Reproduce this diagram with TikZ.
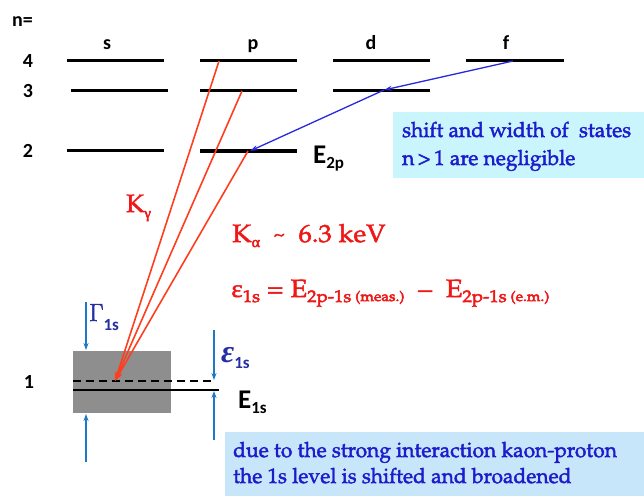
\documentclass[tikz,border=0pt]{standalone}
\usepackage[T1]{fontenc}
\usepackage{fontspec}
\usepackage{graphicx}
\newfontfamily\carl{Carlito}
\newfontfamily\grk{Liberation Serif}
\newcommand\pal{\fontencoding{T1}\fontfamily{ppl}\selectfont}
\newcommand\fsz[1]{\fontsize{#1}{#1}\selectfont}
\newcommand\lowsub[3]{\raisebox{-#1pt}{\fsz{#2}#3}}
\newcommand\fakebold[2]{\special{pdf:literal direct 2 Tr #1 w}#2\special{pdf:literal direct 0 Tr}}
\newcommand\wide[2]{\scalebox{#1}[1]{#2}}
\usetikzlibrary{arrows.meta}
\definecolor{lred}{RGB}{255,62,32}
\definecolor{tred}{RGB}{238,24,24}
\definecolor{lblue}{RGB}{40,40,225}
\definecolor{sblue}{RGB}{30,120,200}
\definecolor{dblue}{RGB}{38,46,165}
\definecolor{boxtxt}{RGB}{28,28,205}
\definecolor{cyanbox}{RGB}{202,245,253}
\definecolor{bluebox}{RGB}{200,230,249}
\definecolor{graybox}{RGB}{142,142,142}
\tikzset{
  level/.style={line width=3pt},
  lbl/.style={font=\carl\bfseries\fsz{20}, inner sep=0pt, anchor=base},
  redarrow/.style={lred, line width=1.6pt, -{Stealth[length=9pt,width=6pt]}},
  bluearrow/.style={lblue, line width=1.3pt, -{Stealth[length=8pt,width=5pt]}},
  smallarrow/.style={sblue, line width=1.5pt, -{Stealth[length=7pt,width=5pt]}},
  redtxt/.style={tred, inner sep=0pt, anchor=base west, font=\pal\fsz{25}},
  boxtext/.style={boxtxt, inner sep=0pt, anchor=base west, align=left, font=\pal\fsz{21}}
}
\begin{document}
\begin{tikzpicture}[x=1pt,y=-1pt]
\useasboundingbox (0,0) rectangle (644,496);
% boxes
\fill[cyanbox] (393,112) rectangle (644,178);
\fill[bluebox] (225,432) rectangle (644,496);
\fill[graybox] (73,351) rectangle (171,413);
% labels
\node[lbl, anchor=base west] (n) at (12,26) {n=};
\node[lbl] (ls) at (107,49) {s};
\node[lbl] (lp) at (253,49) {p};
\node[lbl] (ld) at (371,49) {d};
\node[lbl] (lf) at (506,49) {f};
\node[lbl] (n4) at (28,67) {4};
\node[lbl] (n3) at (28,97) {3};
\node[lbl] (n2) at (28,157) {2};
\node[lbl] (n1) at (29,388) {1};
% levels
\draw[level] (67,60) -- (164,60);
\draw[level] (71,90) -- (168,90);
\draw[level] (67,150) -- (164,150);
\draw[level] (200,60) coordinate (p4s) -- (297,60) coordinate (p4e);
\draw[level] (200,90) coordinate (p3s) -- (297,90) coordinate (p3e);
\draw[line width=4pt] (200,151) coordinate (p2s) -- (297,151) coordinate (p2e);
\draw[level] (333,60) -- (430,60);
\draw[level] (333,90) -- (430,90);
\draw[level] (466,60) -- (564,60);
\coordinate (p4) at (219,61);
\coordinate (p3) at (242,91);
\coordinate (p2) at (248,151);
\coordinate (f4) at (513,61);
\coordinate (d3) at (384,90);
\coordinate (p2b) at (250,151);
\coordinate (g1) at (115,381);
% 1s levels
\draw[line width=2pt, dash pattern=on 8pt off 5pt] (73,381) -- (213,381);
\draw[line width=2pt] (73,390) -- (219,390);
% transitions
\draw[redarrow] (p4) -- (g1);
\draw[redarrow] (p3) -- (g1);
\draw[redarrow] (p2) -- (g1);
\draw[bluearrow] (f4) -- (d3);
\draw[bluearrow] (d3) -- (p2b);
% width and shift arrows
\coordinate (ga) at (86,302); \coordinate (gb) at (86,350);
\coordinate (gc) at (86,462); \coordinate (gd) at (86,414);
\coordinate (ea) at (214,330); \coordinate (eb) at (214,380);
\coordinate (ec) at (214,440); \coordinate (ed) at (214,391);
\draw[smallarrow] (ga) -- (gb);
\draw[smallarrow] (gc) -- (gd);
\draw[smallarrow] (ea) -- (eb);
\draw[smallarrow] (ec) -- (ed);
% energy labels
\node[inner sep=0pt, anchor=base west, font=\carl\bfseries\fsz{27}] (e2p) at (313,163) {E\lowsub{5}{17}{2p}};
\node[inner sep=0pt, anchor=base west, font=\carl\bfseries\fsz{27}] (e1s) at (238,408) {E\lowsub{5}{17}{1s}};
\node[inner sep=0pt, anchor=base west, dblue, font=\fsz{31}] (gam) at (89,321) {\fakebold{0.5}{$\Gamma$}\lowsub{9}{17}{\carl\bfseries 1s}};
\node[inner sep=0pt, anchor=base west, dblue, font=\grk\bfseries\itshape\fsz{32}] (eps) at (221,362) {ε\lowsub{6}{17}{\carl\bfseries\upshape 1s}};
% red texts
\node[redtxt] (kg) at (126,212) {\fakebold{0.45}{K\lowsub{6}{15}{\grk γ}}};
\node[redtxt] (ka) at (232,242) {\fakebold{0.45}{\wide{1.07}{K\lowsub{5}{15}{\grk α}\ \ \raisebox{2pt}{\fsz{18}\textasciitilde}\ \ 6.3 keV}}};
\node[redtxt] (eq) at (231,297) {\fakebold{0.45}{\wide{1.1}{{\grk ε}\lowsub{5}{17}{1s} = E\lowsub{5}{17}{2p-1s}\lowsub{4}{14}{\ (meas.)}\ \ {\grk –}\ \ E\lowsub{5}{17}{2p-1s}\lowsub{4}{14}{\ (e.m.)}}}};
% box texts
\node[boxtext] (t1) at (402,137) {\fakebold{0.4}{shift and width of\ \ states}};
\node[boxtext] (t2) at (402,165) {\fakebold{0.4}{n\,>\,1 are negligible}};
\node[boxtext] (t3) at (233,457) {\fakebold{0.4}{due to the strong interaction kaon-proton}};
\node[boxtext] (t4) at (233,483) {\fakebold{0.4}{the 1s level is shifted and broadened}};
\end{tikzpicture}
\end{document}
